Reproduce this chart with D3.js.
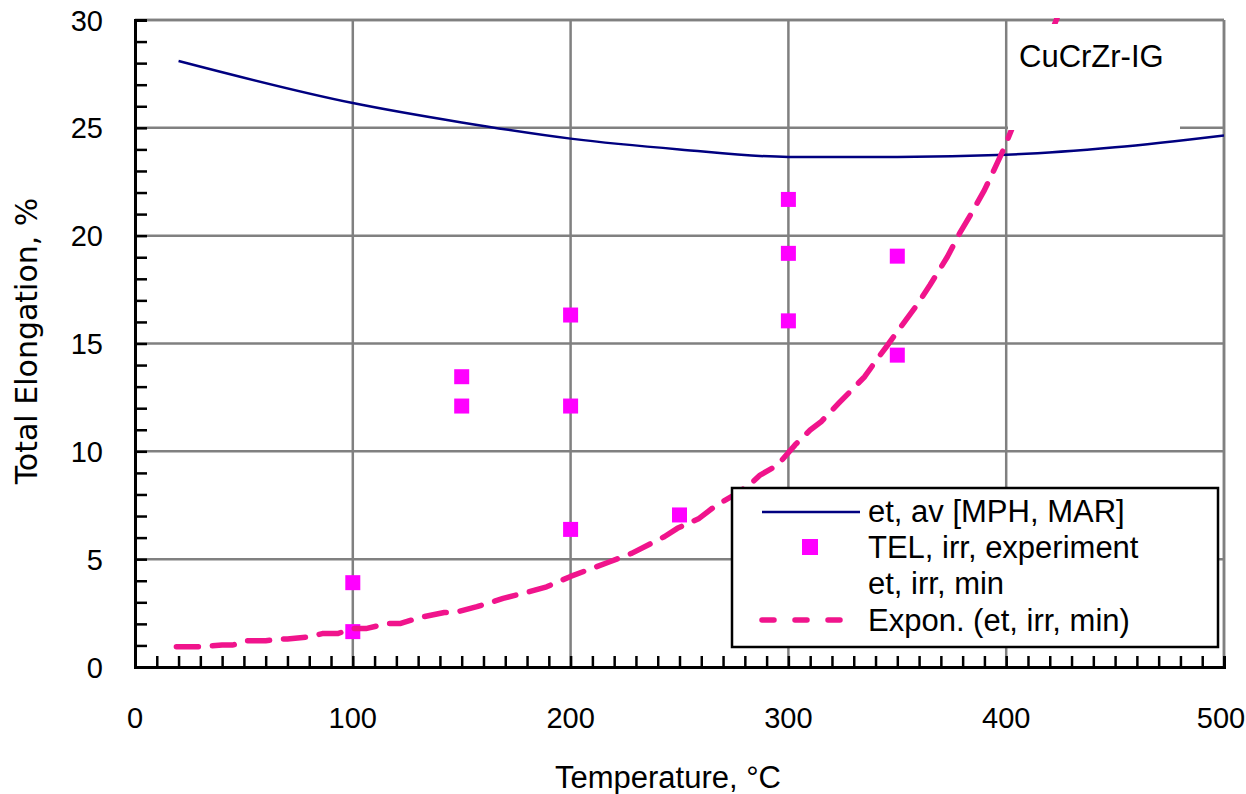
<!DOCTYPE html>
<html>
<head>
<meta charset="utf-8">
<script src="https://cdn.jsdelivr.net/npm/d3@7"></script>
<style>
html,body{margin:0;padding:0;background:#fff;}
svg{display:block;}
</style>
</head>
<body>
<svg id="chart" width="1246" height="794"></svg>
<script>
// ---- data ----
const avgTemps = [20, 100, 150, 200, 250, 300, 350, 400, 450, 500];
const avgElong = [28.1, 26.15, 25.25, 24.5, 24.0, 23.65, 23.65, 23.75, 24.1, 24.65];

const expTemps = [100, 100, 150, 150, 200, 200, 200, 250, 300, 300, 300, 350, 350];
const expElong = [3.91, 1.64, 13.46, 12.1, 16.32, 12.1, 6.38, 7.05, 21.68, 19.18, 16.05, 19.05, 14.46];

// exponential trend line
const trendTemps = [19, 30, 40, 45, 51, 60, 67, 70, 80, 86, 93, 100, 106, 116, 122, 131, 142, 147, 157, 169, 181, 189, 200, 218, 228, 243, 249, 259, 267, 275, 283, 287, 295, 303, 310, 315, 323, 335, 341, 345, 350, 359, 365, 373, 379, 384, 390, 394, 399, 410, 423, 426];
const trendElong = [0.94, 0.94, 1.02, 1.02, 1.22, 1.22, 1.30, 1.30, 1.40, 1.55, 1.55, 1.78, 1.78, 2.02, 2.02, 2.30, 2.53, 2.53, 2.80, 3.18, 3.49, 3.72, 4.2, 4.88, 5.27, 6.04, 6.43, 6.89, 7.51, 7.97, 8.52, 8.9, 9.36, 10.29, 10.99, 11.37, 12.22, 13.46, 14.31, 14.85, 15.55, 16.78, 17.71, 19.02, 20.18, 21.03, 22.11, 22.96, 24.05, 26.8, 30.0, 30.8];

const xTicks = [0, 100, 200, 300, 400, 500];
const yTicks = [0, 5, 10, 15, 20, 25, 30];
const legendLabels = ["et, av [MPH, MAR]", "TEL, irr, experiment", "et, irr, min", "Expon. (et, irr, min)"];
const xTitle = "Temperature, °C";
const yTitle = "Total Elongation, %";
const boxLabel = "CuCrZr-IG";

// ---- layout ----
const svg = d3.select("#chart");
const L = 135, R = 1224, T = 20, B = 667;
const x = d3.scaleLinear().domain([0, 500]).range([L, R]);
const y = d3.scaleLinear().domain([0, 30]).range([B, T]);
const gridCol = "#808080";
const pink = "#F0148C";
const navy = "#000080";
const magenta = "#FF00FF";
const font = "'Liberation Sans', Arial, sans-serif";

svg.append("defs").append("clipPath").attr("id", "clip")
  .append("rect").attr("x", L).attr("y", T - 2).attr("width", R - L).attr("height", B - T + 2);

// grid
const grid = svg.append("g");
grid.selectAll("line.gx").data(xTicks.filter(d => d > 0)).enter().append("line")
  .attr("x1", d => x(d)).attr("x2", d => x(d)).attr("y1", T).attr("y2", B)
  .attr("stroke", gridCol).attr("stroke-width", 2.5);
grid.selectAll("line.gy").data(yTicks.filter(d => d > 0)).enter().append("line")
  .attr("x1", L).attr("x2", R).attr("y1", d => y(d)).attr("y2", d => y(d))
  .attr("stroke", gridCol).attr("stroke-width", 2.5);

// top & right borders
svg.append("line").attr("x1", L).attr("x2", R).attr("y1", T).attr("y2", T).attr("stroke", gridCol).attr("stroke-width", 2.5);
svg.append("line").attr("x1", R).attr("x2", R).attr("y1", T).attr("y2", B).attr("stroke", gridCol).attr("stroke-width", 2.5);

const plot = svg.append("g").attr("clip-path", "url(#clip)");

// average line
const avgData = avgTemps.map((t, i) => [t, avgElong[i]]);
plot.append("path").datum(avgData)
  .attr("d", d3.line().x(d => x(d[0])).y(d => y(d[1])).curve(d3.curveMonotoneX))
  .attr("fill", "none").attr("stroke", navy).attr("stroke-width", 2.5);

// experiment markers
const ms = 15;
plot.selectAll("rect.m").data(expTemps.map((t, i) => [t, expElong[i]])).enter().append("rect")
  .attr("x", d => x(d[0]) - ms / 2).attr("y", d => y(d[1]) - ms / 2)
  .attr("width", ms).attr("height", ms).attr("fill", magenta);

// trend line
const trendData = trendTemps.map((t, i) => [t, trendElong[i]]);
plot.append("path").datum(trendData)
  .attr("d", d3.line().x(d => x(d[0])).y(d => y(d[1])))
  .attr("fill", "none").attr("stroke", pink).attr("stroke-width", 5.5)
  .attr("stroke-linecap", "round").attr("stroke-linejoin", "round")
  .attr("stroke-dasharray", "22,14");

// label box
svg.append("rect").attr("x", 1008).attr("y", 24).attr("width", 172).attr("height", 106).attr("fill", "#fff");
svg.append("text").attr("x", 1019).attr("y", 67).attr("font-family", font).attr("font-size", 31)
  .attr("fill", "#000").text(boxLabel);

// legend
const lg = svg.append("g");
lg.append("rect").attr("x", 732).attr("y", 488).attr("width", 486).attr("height", 159)
  .attr("fill", "#fff").attr("stroke", "#000").attr("stroke-width", 2.5);
const rowBase = [522, 558, 594, 631];
lg.selectAll("text").data(legendLabels).enter().append("text")
  .attr("x", 868).attr("y", (d, i) => rowBase[i])
  .attr("font-family", font).attr("font-size", 31).attr("fill", "#000").text(d => d);
lg.append("line").attr("x1", 762).attr("x2", 860).attr("y1", 512).attr("y2", 512)
  .attr("stroke", navy).attr("stroke-width", 2.5);
lg.append("rect").attr("x", 810 - 8).attr("y", 547 - 8).attr("width", 16).attr("height", 16).attr("fill", magenta);
lg.append("line").attr("x1", 762).attr("x2", 845).attr("y1", 620).attr("y2", 620)
  .attr("stroke", pink).attr("stroke-width", 5.5).attr("stroke-linecap", "round")
  .attr("stroke-dasharray", "12,21");

// axes
const xAxis = d3.axisBottom(x).tickValues(d3.range(0, 501, 10)).tickSize(-11).tickFormat("");
const gx = svg.append("g").attr("transform", `translate(0,${B})`).call(xAxis);
const yAxis = d3.axisLeft(y).tickValues(d3.range(0, 31, 1)).tickSize(-12).tickFormat("");
const gy = svg.append("g").attr("transform", `translate(${L},0)`).call(yAxis);
[gx, gy].forEach(g => {
  g.select(".domain").attr("stroke", "#000").attr("stroke-width", 3);
  g.selectAll(".tick line").attr("stroke", "#000").attr("stroke-width", 2.5);
});

// tick labels
svg.selectAll("text.xt").data(xTicks).enter().append("text")
  .attr("x", d => x(d) - (d === 500 ? 3 : 0)).attr("y", 728).attr("text-anchor", "middle")
  .attr("font-family", font).attr("font-size", 29).attr("fill", "#000").text(d => d);
svg.selectAll("text.yt").data(yTicks).enter().append("text")
  .attr("x", 103).attr("y", d => y(d) + 10.5).attr("text-anchor", "end")
  .attr("font-family", font).attr("font-size", 29).attr("fill", "#000").text(d => d);

// titles
svg.append("text").attr("x", 668).attr("y", 788).attr("text-anchor", "middle")
  .attr("font-family", font).attr("font-size", 31).attr("fill", "#000").text(xTitle);
svg.append("text").attr("transform", "translate(37,341) rotate(-90)").attr("text-anchor", "middle")
  .attr("font-family", "'DejaVu Sans', sans-serif").attr("font-size", 30).attr("fill", "#000").text(yTitle);
</script>
</body>
</html>
